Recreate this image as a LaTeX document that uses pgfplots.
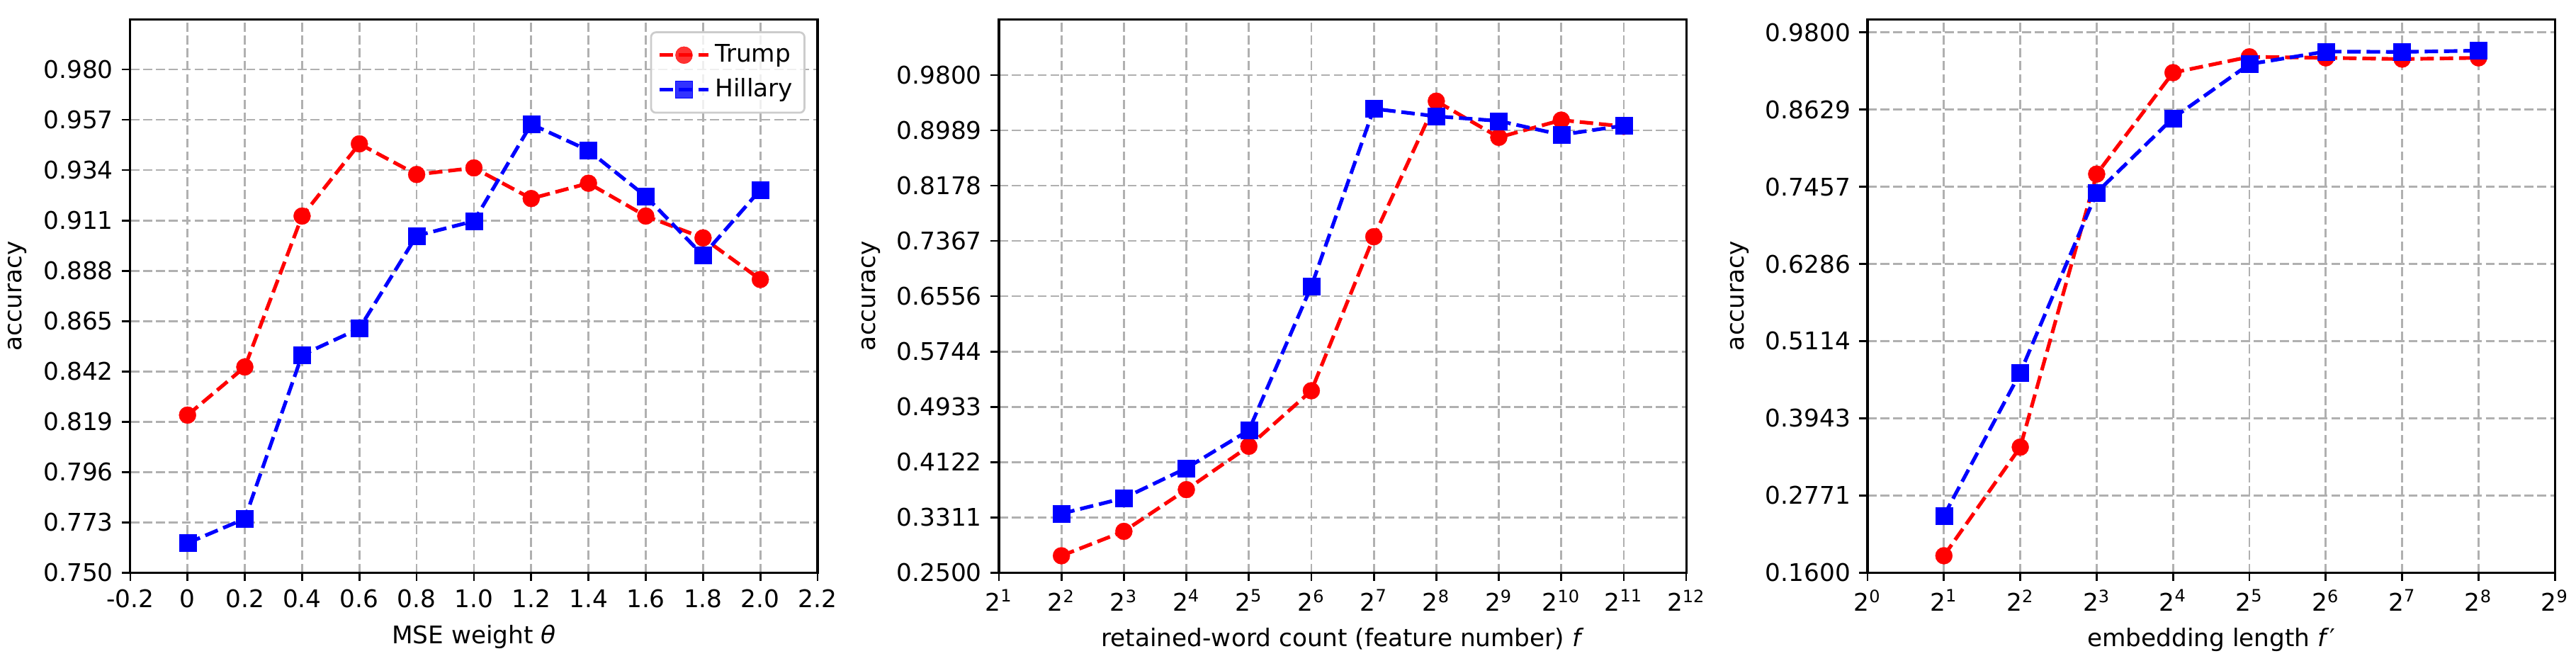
\documentclass[border=0pt]{standalone}
\usepackage{fontspec}
\setmainfont{DejaVu Sans}
\usepackage{pgfplots}
\pgfplotsset{compat=1.18}

\definecolor{gridgray}{HTML}{B0B0B0}
\definecolor{legedge}{HTML}{CCCCCC}

\pgfplotsset{
  panel/.style={
    scale only axis, width=282.8pt, height=227.7pt, anchor=south west,
    axis line style={line width=0.9pt},
    tick align=outside, xtick pos=bottom, ytick pos=left,
    major tick length=3.5pt,
    every tick/.style={black, line width=0.8pt},
    grid=major,
    major grid style={gridgray, line width=0.8pt, dash pattern=on 3.7pt off 1.6pt},
    ylabel={accuracy},
    /pgf/number format/assume math mode=true,
    legend image code/.code={
      \draw[##1, mark=none] (0pt,0pt) -- (20pt,0pt);
      \draw[##1, only marks] plot coordinates {(10pt,0pt)};
    },
  },
  trump/.style={red, line width=1.5pt, dash pattern=on 5.55pt off 2.4pt,
    mark=*, mark size=3.5pt, mark options={solid, fill=red, draw=red, line width=0.1pt}},
  hillary/.style={blue, line width=1.5pt, dash pattern=on 5.55pt off 2.4pt,
    mark=square*, mark size=3.5pt, mark options={solid, fill=blue, draw=blue, line width=0.1pt}},
}

\begin{document}
\begin{tikzpicture}
\useasboundingbox (0,0) rectangle (1059.9pt,271.7pt);

% panel 1: MSE weight
\begin{axis}[panel, at={(53.6pt,36.1pt)},
  xmin=-0.2, xmax=2.2, ymin=0.75, ymax=1.003,
  xtick={-0.2,0,0.2,0.4,0.6,0.8,1.0,1.2,1.4,1.6,1.8,2.0,2.2},
  xticklabels={-0.2,0,0.2,0.4,0.6,0.8,1.0,1.2,1.4,1.6,1.8,2.0,2.2},
  ytick={0.750,0.773,0.796,0.819,0.842,0.865,0.888,0.911,0.934,0.957,0.980},
  yticklabels={0.750,0.773,0.796,0.819,0.842,0.865,0.888,0.911,0.934,0.957,0.980},
  xlabel={MSE weight \textit{θ}},
  legend style={at={(1,1)}, anchor=north east, xshift=-5pt, yshift=-5pt,
    font=\fontsize{10pt}{12pt}\selectfont,
    draw=legedge, line width=0.8pt, rounded corners=2pt,
    fill=white, fill opacity=0.8, text opacity=1, draw opacity=1,
    inner xsep=2.8pt, inner ysep=3pt, row sep=1.2pt,
    nodes={inner sep=2pt},
    /tikz/every even column/.append style={column sep=6pt}},
  legend cell align=left,
]
  \addplot[trump] coordinates {(0,0.822) (0.2,0.844) (0.4,0.913) (0.6,0.946) (0.8,0.932)
    (1.0,0.935) (1.2,0.921) (1.4,0.928) (1.6,0.913) (1.8,0.903) (2.0,0.884)};
  \addlegendentry{Trump}
  \addplot[hillary] coordinates {(0,0.7635) (0.2,0.7746) (0.4,0.8495) (0.6,0.8616) (0.8,0.904)
    (1.0,0.9107) (1.2,0.955) (1.4,0.943) (1.6,0.922) (1.8,0.895) (2.0,0.925)};
  \addlegendentry{Hillary}
\end{axis}

% panel 2: retained-word count
\begin{axis}[panel, at={(411.0pt,36.1pt)},
  xmode=log, log basis x=2,
  xmin=2, xmax=4096, ymin=0.25, ymax=1.062,
  xtick={2,4,8,16,32,64,128,256,512,1024,2048,4096},
  xticklabels={2\textsuperscript{1},2\textsuperscript{2},2\textsuperscript{3},2\textsuperscript{4},
    2\textsuperscript{5},2\textsuperscript{6},2\textsuperscript{7},2\textsuperscript{8},
    2\textsuperscript{9},2\textsuperscript{10},2\textsuperscript{11},2\textsuperscript{12}},
  ytick={0.2500,0.3311,0.4122,0.4933,0.5744,0.6556,0.7367,0.8178,0.8989,0.9800},
  yticklabels={0.2500,0.3311,0.4122,0.4933,0.5744,0.6556,0.7367,0.8178,0.8989,0.9800},
  xlabel={retained-word count (feature number) \textit{f}},
]
  \addplot[trump] coordinates {(4,0.2747) (8,0.3105) (16,0.3717) (32,0.4353) (64,0.5168)
    (128,0.7428) (256,0.9417) (512,0.8886) (1024,0.9139) (2048,0.9047)};
  \addplot[hillary] coordinates {(4,0.3365) (8,0.3593) (16,0.4032) (32,0.4588) (64,0.670)
    (128,0.9306) (256,0.9195) (512,0.9127) (1024,0.8923) (2048,0.9059)};
\end{axis}

% panel 3: embedding length
\begin{axis}[panel, at={(768.4pt,36.1pt)},
  xmode=log, log basis x=2,
  xmin=1, xmax=512, ymin=0.16, ymax=1.0002,
  xtick={1,2,4,8,16,32,64,128,256,512},
  xticklabels={2\textsuperscript{0},2\textsuperscript{1},2\textsuperscript{2},2\textsuperscript{3},
    2\textsuperscript{4},2\textsuperscript{5},2\textsuperscript{6},2\textsuperscript{7},
    2\textsuperscript{8},2\textsuperscript{9}},
  ytick={0.1600,0.2771,0.3943,0.5114,0.6286,0.7457,0.8629,0.9800},
  yticklabels={0.1600,0.2771,0.3943,0.5114,0.6286,0.7457,0.8629,0.9800},
  xlabel={embedding length \textit{f}′},
]
  \addplot[trump] coordinates {(2,0.1856) (4,0.3505) (8,0.765) (16,0.919) (32,0.943)
    (64,0.9415) (128,0.9396) (256,0.9415)};
  \addplot[hillary] coordinates {(2,0.2463) (4,0.4636) (8,0.737) (16,0.850) (32,0.932)
    (64,0.951) (128,0.9505) (256,0.9524)};
\end{axis}
\end{tikzpicture}
\end{document}
